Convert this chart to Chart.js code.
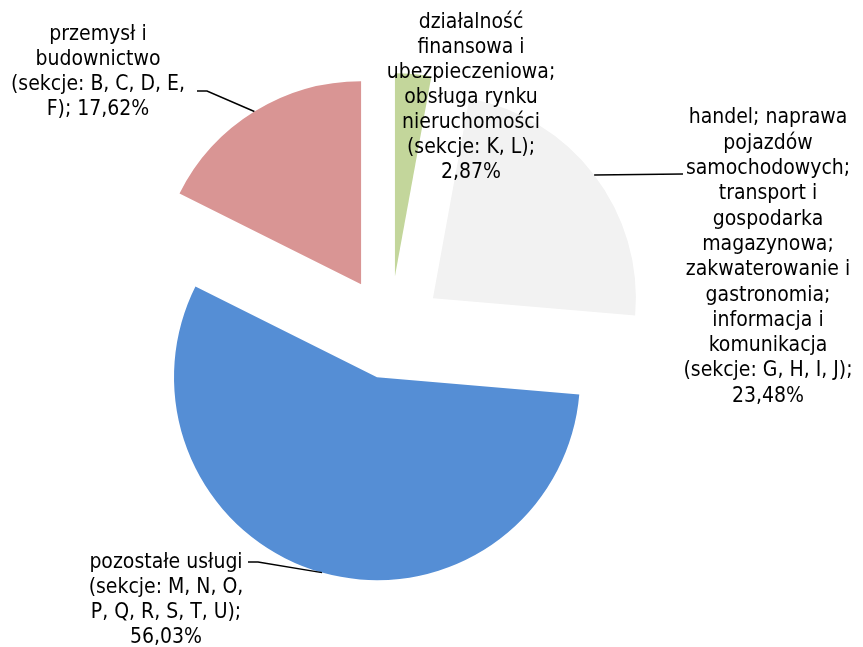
<!DOCTYPE html>
<html lang="pl">
  <head>
    <meta charset="UTF-8" />
    <title>Struktura - sekcje PKD</title>
    <script src="https://cdn.jsdelivr.net/npm/chart.js"></script>
    <style>
      body { margin: 0; background: #fff; }
      #wrap { width: 863px; height: 647px; position: relative; }
    </style>
  </head>
  <body>
    <div id="wrap">
      <canvas id="pieChart"></canvas>
    </div>

    <script>
      // Chart data (order: clockwise from 12 o'clock)
      const categories = [
        ['działalność', 'finansowa i', 'ubezpieczeniowa;', 'obsługa rynku', 'nieruchomości', '(sekcje: K, L);'],
        ['handel; naprawa', 'pojazdów', 'samochodowych;', 'transport i', 'gospodarka', 'magazynowa;',
         'zakwaterowanie i', 'gastronomia;', 'informacja i', 'komunikacja', '(sekcje: G, H, I, J);'],
        ['pozostałe usługi', '(sekcje: M, N, O,', 'P, Q, R, S, T, U);'],
        ['przemysł i', 'budownictwo', '(sekcje: B, C, D, E,', 'F);']
      ];
      const shares = [2.87, 23.48, 56.03, 17.62];
      const sliceColors = ['#C3D69B', '#F2F2F2', '#558ED5', '#D99594'];

      // Layout of the slices and labels
      const explodeGap = [55, 54, 48, 55];
      const percentOwnLine = [true, true, true, false];
      const labelAnchor = [[471, 23], [768, 118], [166, 563], [98, 35]];
      const lineStep = [25, 25.3, 25, 25];
      const leaderPoints = [null, [[683, 174]], [[258, 562], [248, 562]], [[207, 91], [197, 91]]];

      // pie with every slice pulled out from the centre
      class ExplodedPieController extends Chart.PieController {
        draw() {
          const ctx = this.chart.ctx;
          this._cachedMeta.data.forEach((arc, i) => {
            const mid = (arc.startAngle + arc.endAngle) / 2;
            ctx.save();
            ctx.translate(Math.cos(mid) * explodeGap[i], Math.sin(mid) * explodeGap[i]);
            arc.draw(ctx);
            ctx.restore();
          });
        }
      }
      ExplodedPieController.id = 'explodedPie';
      ExplodedPieController.defaults = Chart.PieController.defaults;
      Chart.register(ExplodedPieController);

      const formatShare = v => v.toFixed(2).replace('.', ',') + '%';

      const sliceLabels = {
        id: 'sliceLabels',
        afterDatasetsDraw(chart) {
          const ctx = chart.ctx;
          const arcs = chart.getDatasetMeta(0).data;
          ctx.save();
          ctx.font = '21px "DejaVu Sans Condensed", "DejaVu Sans", sans-serif';
          ctx.fillStyle = '#000';
          ctx.textAlign = 'center';
          ctx.textBaseline = 'middle';

          categories.forEach((catLines, i) => {
            const lines = catLines.slice();
            if (percentOwnLine[i]) {
              lines.push(formatShare(shares[i]));
            } else {
              lines[lines.length - 1] += ' ' + formatShare(shares[i]);
            }
            lines.forEach((txt, k) => {
              ctx.fillText(txt, labelAnchor[i][0], labelAnchor[i][1] + k * lineStep[i]);
            });

            // leader line from the middle of the slice edge
            if (leaderPoints[i]) {
              const arc = arcs[i];
              const mid = (arc.startAngle + arc.endAngle) / 2;
              const r = arc.outerRadius + explodeGap[i];
              ctx.beginPath();
              ctx.moveTo(arc.x + Math.cos(mid) * r, arc.y + Math.sin(mid) * r);
              leaderPoints[i].forEach(p => ctx.lineTo(p[0], p[1]));
              ctx.strokeStyle = '#000';
              ctx.lineWidth = 1.5;
              ctx.stroke();
            }
          });
          ctx.restore();
        }
      };

      new Chart(document.getElementById('pieChart'), {
        type: 'explodedPie',
        data: {
          labels: categories.map(l => l.join(' ')),
          datasets: [{
            data: shares,
            backgroundColor: sliceColors,
            borderWidth: 0,
            clip: false
          }]
        },
        options: {
          responsive: true,
          maintainAspectRatio: false,
          animation: false,
          radius: 203,
          layout: { padding: { left: 0, right: 83, top: 15, bottom: 0 } },
          plugins: {
            legend: { display: false },
            tooltip: { enabled: false }
          }
        },
        plugins: [sliceLabels]
      });
    </script>
  </body>
</html>
